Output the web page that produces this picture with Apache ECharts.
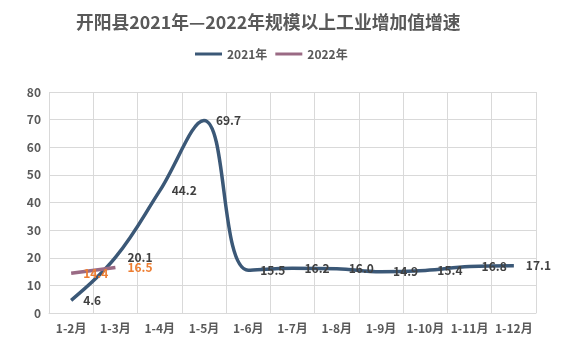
<!DOCTYPE html>
<html><head><meta charset="utf-8">
<script src="https://cdn.jsdelivr.net/npm/echarts@6/dist/echarts.min.js"></script>
<style>html,body{margin:0;padding:0;background:#fff}#c{width:566px;height:360px}</style>
</head><body><div id="c"></div>
<script>
const titleText = '开阳县2021年—2022年规模以上工业增加值增速';
const categories = ['1-2月','1-3月','1-4月','1-5月','1-6月','1-7月','1-8月','1-9月','1-10月','1-11月','1-12月'];
const seriesNames = ['2021年','2022年'];
const values2021 = [4.6, 20.1, 44.2, 69.7, 15.5, 16.2, 16.0, 14.9, 15.4, 16.8, 17.1];
const values2022 = [14.4, 16.5];
const yTicks = [0, 10, 20, 30, 40, 50, 60, 70, 80];

const font = '"Noto Sans CJK SC", "Noto Sans", sans-serif';
const chart = echarts.init(document.getElementById('c'));
chart.setOption({
  animation: false,
  textStyle: { fontFamily: font },
  title: {
    text: titleText, left: 71, top: 8,
    textStyle: { fontSize: 17.8, fontWeight: 'bold', color: '#595959', fontFamily: font }
  },
  legend: {
    data: seriesNames, top: 43, left: 190,
    icon: 'rect', itemWidth: 27, itemHeight: 3, itemGap: 8,
    textStyle: { fontSize: 12, fontWeight: 'bold', color: '#595959', fontFamily: font }
  },
  grid: { left: 49, right: 30, top: 92, bottom: 47 },
  xAxis: {
    type: 'category', data: categories, boundaryGap: true,
    axisLine: { lineStyle: { color: '#d9d9d9' } },
    axisTick: { show: false },
    splitLine: { show: true, lineStyle: { color: '#d9d9d9' } },
    axisLabel: { color: '#595959', fontSize: 12, fontWeight: 'bold', margin: 9, interval: 0 }
  },
  yAxis: {
    type: 'value', min: yTicks[0], max: yTicks[yTicks.length - 1], interval: 10,
    axisLine: { show: false }, axisTick: { show: false },
    splitLine: { lineStyle: { color: '#d9d9d9' } },
    axisLabel: { color: '#595959', fontSize: 12, fontWeight: 'bold', margin: 8 }
  },
  series: [
    {
      name: seriesNames[0], type: 'line', data: values2021, smooth: 0.4,
      symbol: 'circle', symbolSize: 0, showSymbol: true,
      lineStyle: { width: 3.5, color: '#3B5877' }, itemStyle: { color: '#3B5877' },
      label: { show: true, position: 'right', distance: 12, color: '#404040', fontSize: 12, fontWeight: 'bold', formatter: p => p.value.toFixed(1) }
    },
    {
      name: seriesNames[1], type: 'line', data: values2022, smooth: 0.4,
      symbol: 'circle', symbolSize: 0, showSymbol: true,
      lineStyle: { width: 3.5, color: '#9A6A84' }, itemStyle: { color: '#9A6A84' },
      label: { show: true, position: 'right', distance: 12, color: '#ED7D31', fontSize: 12, fontWeight: 'bold', formatter: p => p.value.toFixed(1) }
    }
  ]
});
</script></body></html>
